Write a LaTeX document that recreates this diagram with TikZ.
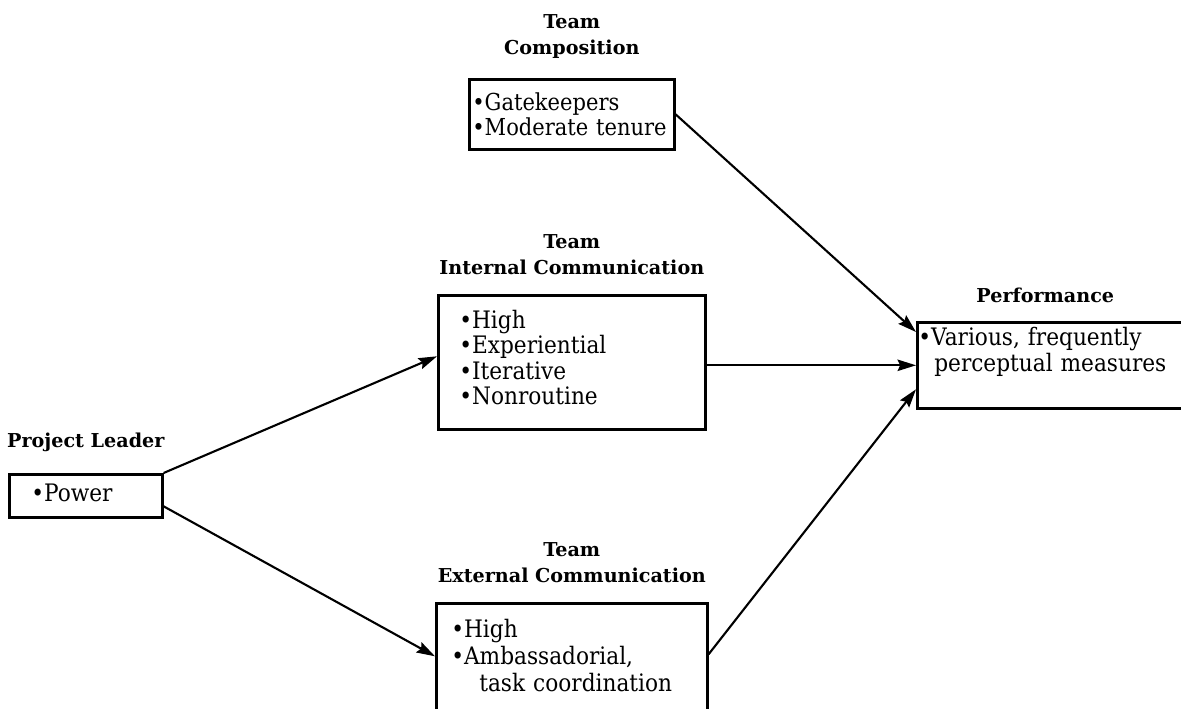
\documentclass[tikz,border=0pt]{standalone}
\usepackage{fontspec}
\setmainfont{DejaVu Serif}
\newfontfamily\bodyfont[FakeStretch=0.9]{DejaVu Serif}
\usetikzlibrary{arrows.meta,positioning}

\begin{document}
\begin{tikzpicture}[
    x=0.02cm, y=-0.02cm,
    node distance=0.38cm,
    factor/.style={rectangle, draw, line width=1.5pt, anchor=north west, align=left, inner ysep=0pt, font={\bodyfont\fontsize{13.7pt}{14.5pt}\selectfont}},
    heading/.style={align=center, inner sep=0pt, font={\fontsize{10.9pt}{14.8pt}\selectfont\bfseries}},
    arrow/.style={-{Stealth[length=10.5pt, width=6.5pt, inset=1.5pt]}, line width=1.2pt}
]
    \useasboundingbox (0,0) rectangle (1181,709);

    \node[factor, minimum width=4.10cm, minimum height=1.40cm, inner xsep=0.06cm, text width=3.98cm, font={\bodyfont\fontsize{13.3pt}{14.3pt}\selectfont}] (comp) at (468,78) {•Gatekeepers\\•Moderate tenure};
    \node[factor, minimum width=5.34cm, minimum height=2.68cm, inner xsep=0.42cm, text width=4.50cm] (internal) at (437,294) {•High\\•Experiential\\•Iterative\\•Nonroutine\rule[-0.2cm]{0pt}{0.2cm}};
    \node[factor, minimum width=5.42cm, minimum height=2.20cm, inner xsep=0.30cm, text width=4.82cm, font={\bodyfont\fontsize{13.7pt}{15.6pt}\selectfont}] (external) at (435,602) {•High\\•Ambassadorial,\\\hspace*{0.56cm}task coordination\rule[-0.12cm]{0pt}{0.12cm}};
    \node[factor, minimum width=5.38cm, minimum height=1.72cm, inner xsep=0.02cm, text width=5.34cm] (perf) at (916,321) {•Various, frequently\\\hspace*{0.32cm}perceptual measures\rule[-0.63cm]{0pt}{0.63cm}};
    \node[factor, minimum width=3.06cm, minimum height=0.86cm, inner xsep=0.44cm, text width=2.18cm] (leader) at (8,473) {•Power\rule[-0.12cm]{0pt}{0.12cm}};

    \node[heading, above=of comp] (comp-title) {Team\\Composition};
    \node[heading, above=of internal] (internal-title) {Team\\Internal Communication};
    \node[heading, above=of external] (external-title) {Team\\External Communication};
    \node[heading, above=0.36cm of perf, xshift=-0.13cm] (perf-title) {Performance};
    \node[heading, above=0.42cm of leader] (leader-title) {Project Leader};

    \draw[arrow] (leader.north east) -- ([yshift=0.12cm]internal.west);
    \draw[arrow] ([yshift=-0.21cm]leader.east) -- ([yshift=0.04cm]external.west);
    \draw[arrow] (comp.east) -- ([yshift=-0.22cm]perf.north west);
    \draw[arrow] (internal.east |- perf.west) -- (perf.west);
    \draw[arrow] ([yshift=0.08cm]external.east) -- ([yshift=-0.48cm]perf.west);
\end{tikzpicture}
\end{document}
